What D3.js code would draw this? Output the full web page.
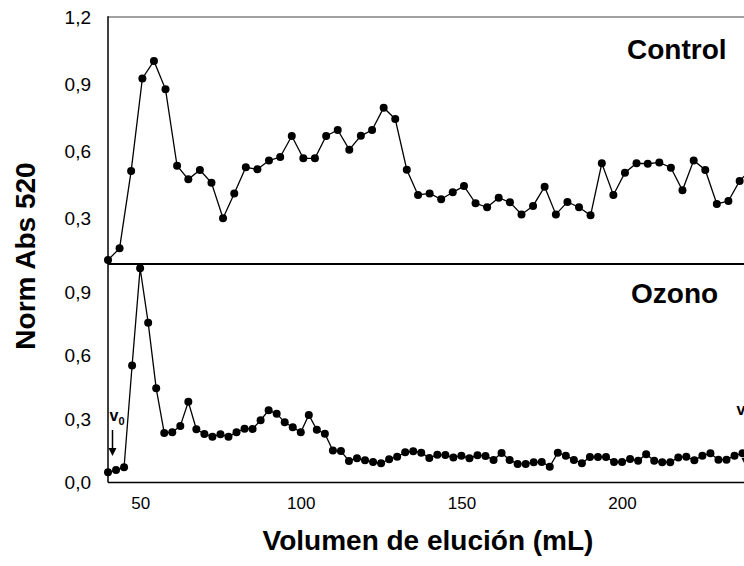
<!DOCTYPE html>
<html>
<head>
<meta charset="utf-8">
<script src="https://cdn.jsdelivr.net/npm/d3@7"></script>
<style>
  html, body { margin: 0; padding: 0; background: #fff; overflow: hidden; }
  svg { display: block; font-family: Arial, "Liberation Sans", sans-serif; }
</style>
</head>
<body>
<svg id="chart" width="744" height="566"></svg>
<script>
// ---------- data ----------
const controlVolume = [40.0, 43.6, 47.2, 50.7, 54.3, 57.9, 61.5, 65.0, 68.6, 72.2, 75.8, 79.3, 82.9, 86.5, 90.1, 93.6, 97.2, 100.8, 104.4, 107.9, 111.5, 115.1, 118.7, 122.2, 125.8, 129.4, 133.0, 136.5, 140.1, 143.7, 147.3, 150.8, 154.4, 158.0, 161.6, 165.1, 168.7, 172.3, 175.9, 179.4, 183.0, 186.6, 190.2, 193.7, 197.3, 200.9, 204.5, 208.0, 211.6, 215.2, 218.8, 222.3, 225.9, 229.5, 233.1, 236.6, 240.2];
const controlAbs = [0.112, 0.164, 0.510, 0.925, 1.003, 0.876, 0.534, 0.473, 0.515, 0.458, 0.299, 0.410, 0.527, 0.518, 0.557, 0.573, 0.667, 0.567, 0.567, 0.667, 0.694, 0.606, 0.668, 0.694, 0.794, 0.743, 0.516, 0.403, 0.410, 0.384, 0.415, 0.443, 0.366, 0.348, 0.391, 0.370, 0.316, 0.354, 0.440, 0.316, 0.372, 0.348, 0.312, 0.545, 0.403, 0.503, 0.545, 0.543, 0.549, 0.525, 0.424, 0.558, 0.515, 0.363, 0.376, 0.466, 0.52];

const ozonoVolume = [40.0, 42.5, 45.0, 47.5, 50.0, 52.5, 55.0, 57.5, 60.0, 62.5, 65.0, 67.5, 70.0, 72.5, 75.0, 77.5, 80.0, 82.5, 85.0, 87.5, 90.0, 92.5, 95.0, 97.5, 100.0, 102.5, 105.0, 107.5, 110.0, 112.5, 115.0, 117.5, 120.0, 122.5, 125.0, 127.5, 130.0, 132.5, 135.0, 137.5, 140.0, 142.5, 145.0, 147.5, 150.0, 152.5, 155.0, 157.5, 160.0, 162.5, 165.0, 167.5, 170.0, 172.5, 175.0, 177.5, 180.0, 182.5, 185.0, 187.5, 190.0, 192.5, 195.0, 197.5, 200.0, 202.5, 205.0, 207.5, 210.0, 212.5, 215.0, 217.5, 220.0, 222.5, 225.0, 227.5, 230.0, 232.5, 235.0, 237.5, 240.0];
const ozonoAbs = [0.048, 0.059, 0.072, 0.554, 1.015, 0.757, 0.446, 0.235, 0.238, 0.268, 0.382, 0.252, 0.230, 0.217, 0.228, 0.217, 0.238, 0.255, 0.254, 0.295, 0.342, 0.326, 0.285, 0.262, 0.238, 0.320, 0.250, 0.231, 0.151, 0.149, 0.102, 0.115, 0.105, 0.097, 0.091, 0.110, 0.122, 0.143, 0.148, 0.141, 0.116, 0.132, 0.130, 0.119, 0.127, 0.115, 0.129, 0.126, 0.107, 0.140, 0.107, 0.088, 0.088, 0.096, 0.097, 0.075, 0.141, 0.127, 0.107, 0.091, 0.121, 0.121, 0.121, 0.097, 0.097, 0.111, 0.103, 0.134, 0.103, 0.096, 0.096, 0.119, 0.122, 0.105, 0.127, 0.138, 0.108, 0.108, 0.127, 0.138, 0.14];

const xTicks = [50, 100, 150, 200];
const topTicks = [0.3, 0.6, 0.9, 1.2];
const bottomTicks = [0.0, 0.3, 0.6, 0.9];
const panelLabels = ["Control", "Ozono"];
const xTitle = "Volumen de elución (mL)";
const yTitle = "Norm Abs 520";

// ---------- layout ----------
const svg = d3.select("#chart");
const plotLeft = 108, plotRight = 782.7;
const plotTop = 17, plotMid = 264, plotBottom = 482.5;

const x = d3.scaleLinear().domain([40, 250]).range([plotLeft, plotRight]);
const yTop = d3.scaleLinear().domain([0.3, 1.2]).range([218, plotTop]);
const yBot = d3.scaleLinear().domain([0, 0.9]).range([plotBottom, 292.5]);

const fmt = d => d3.format(".1f")(d).replace(".", ",");

// frame lines
svg.append("line").attr("x1", plotLeft).attr("x2", plotRight).attr("y1", plotTop).attr("y2", plotTop)
  .attr("stroke", "#808080").attr("stroke-width", 1.5);
svg.append("line").attr("x1", plotLeft).attr("x2", plotRight).attr("y1", plotMid).attr("y2", plotMid)
  .attr("stroke", "#000").attr("stroke-width", 1.8);

// axes (no tick marks)
const axTop = svg.append("g").attr("transform", `translate(${plotLeft},0)`)
  .call(d3.axisLeft(yTop).tickValues(topTicks).tickSize(0).tickPadding(17).tickFormat(fmt));
const axBot = svg.append("g").attr("transform", `translate(${plotLeft},0)`)
  .call(d3.axisLeft(yBot).tickValues(bottomTicks).tickSize(0).tickPadding(17).tickFormat(fmt));
[axTop, axBot].forEach(g => {
  g.select(".domain").remove();
  g.selectAll("text").attr("font-size", 19).attr("fill", "#000")
    .attr("font-family", "Arial, 'Liberation Sans', sans-serif");
});
svg.append("line").attr("x1", plotLeft).attr("x2", plotLeft).attr("y1", plotTop - 0.75).attr("y2", plotBottom)
  .attr("stroke", "#000").attr("stroke-width", 1.5);

const axX = svg.append("g").attr("transform", `translate(0,${plotBottom})`)
  .call(d3.axisBottom(x).tickValues(xTicks).tickSize(0).tickPadding(14).tickFormat(d3.format("d")));
axX.select(".domain").remove();
axX.selectAll("text").attr("font-size", 17).attr("fill", "#000")
  .attr("font-family", "Arial, 'Liberation Sans', sans-serif");
svg.append("line").attr("x1", plotLeft).attr("x2", plotRight).attr("y1", plotBottom).attr("y2", plotBottom)
  .attr("stroke", "#000").attr("stroke-width", 1.5);

// series
function drawSeries(vols, vals, yScale) {
  const pts = vols.map((v, i) => [v, vals[i]]);
  svg.append("path").datum(pts)
    .attr("fill", "none").attr("stroke", "#000").attr("stroke-width", 1.3)
    .attr("d", d3.line().x(d => x(d[0])).y(d => yScale(d[1])));
  svg.append("g").selectAll("circle").data(pts).join("circle")
    .attr("cx", d => x(d[0])).attr("cy", d => yScale(d[1])).attr("r", 4)
    .attr("fill", "#000");
}
drawSeries(controlVolume, controlAbs, yTop);
drawSeries(ozonoVolume, ozonoAbs, yBot);

// panel labels
svg.append("text").attr("x", 627).attr("y", 59).attr("font-size", 28).attr("font-weight", "bold")
  .text(panelLabels[0]);
svg.append("text").attr("x", 631).attr("y", 302.5).attr("font-size", 28).attr("font-weight", "bold")
  .text(panelLabels[1]);

// axis titles
svg.append("text").attr("x", 428).attr("y", 550).attr("text-anchor", "middle")
  .attr("font-size", 28).attr("font-weight", "bold").text(xTitle);
svg.append("text").attr("transform", "translate(35,256) rotate(-90)").attr("text-anchor", "middle")
  .attr("font-size", 28).attr("font-weight", "bold").text(yTitle);

// v0 / vt markers
function marker(xText, yText, xp, y1, y2, sub) {
  const t = svg.append("text").attr("x", xText).attr("y", yText).attr("font-size", 16).attr("font-weight", "bold");
  t.append("tspan").text("v");
  t.append("tspan").attr("font-size", 11).attr("dy", 4).text(sub);
  svg.append("line").attr("x1", xp).attr("x2", xp).attr("y1", y1).attr("y2", y2 - 6)
    .attr("stroke", "#000").attr("stroke-width", 1.5);
  svg.append("path").attr("d", `M${xp - 4},${y2 - 8} L${xp + 4},${y2 - 8} L${xp},${y2} Z`).attr("fill", "#000");
}
marker(109.5, 421, 112.5, 430, 456, "0");
marker(736.5, 415, 745.5, 442, 466, "t");
</script>
</body>
</html>
